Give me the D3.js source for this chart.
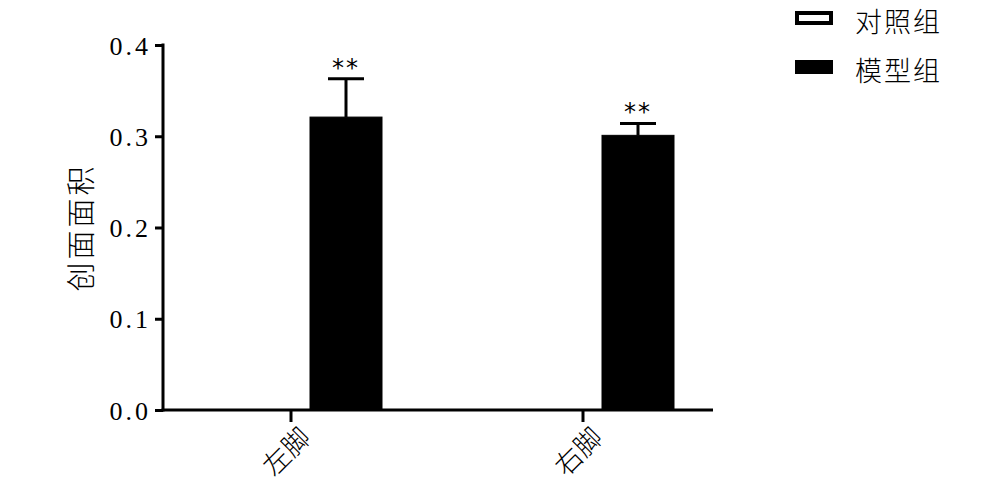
<!DOCTYPE html>
<html><head><meta charset="utf-8">
<script src="https://cdn.jsdelivr.net/npm/d3@7/dist/d3.min.js"></script>
<style>body{margin:0;background:#fff;}svg{display:block;}</style>
</head><body>
<svg id="chart" width="999" height="487"></svg>
<script>
const categories = ["左脚", "右脚"];
const groups = ["对照组", "模型组"];
const controlValues = [0, 0];
const controlErrors = [0, 0];
const modelValues = [0.321, 0.301];
const modelErrors = [0.042, 0.013];
const significance = ["**", "**"];
const yTicks = [0.0, 0.1, 0.2, 0.3, 0.4];
const yLabel = "创面面积";

const svg = d3.select("#chart");
const axisLeft = 163, axisRight = 713, y0 = 410, yTop = 45;

const y = d3.scaleLinear().domain([0, 0.4]).range([y0, yTop]);
const x = d3.scaleBand().domain(categories).range([145, 729]).paddingInner(0).paddingOuter(0);
const xs = d3.scaleBand().domain(groups).range([55, 237]).paddingInner(0.3455).paddingOuter(0);

const series = [
  {name: groups[0], values: controlValues, errors: controlErrors, fill: "#fff"},
  {name: groups[1], values: modelValues, errors: modelErrors, fill: "#000"}
];

// bars
series.forEach(s => {
  const g = svg.append("g");
  categories.forEach((c, i) => {
    const bx = x(c) + xs(s.name);
    const bw = xs.bandwidth();
    const v = s.values[i];
    g.append("rect")
      .attr("x", bx).attr("y", y(v))
      .attr("width", bw).attr("height", y(0) - y(v))
      .attr("fill", s.fill).attr("stroke", "#000").attr("stroke-width", 1);
    if (s.errors[i] > 0) {
      const cx = bx + bw / 2;
      const top = y(v + s.errors[i]);
      g.append("line").attr("x1", cx).attr("x2", cx).attr("y1", y(v)).attr("y2", top)
        .attr("stroke", "#000").attr("stroke-width", 3);
      g.append("line").attr("x1", cx - 18).attr("x2", cx + 18).attr("y1", top).attr("y2", top)
        .attr("stroke", "#000").attr("stroke-width", 3);
      if (s.name === groups[1]) {
        g.append("text").attr("x", cx).attr("y", top - 3)
          .attr("text-anchor", "middle")
          .attr("font-family", "DejaVu Sans, sans-serif").attr("font-size", 24)
          .attr("letter-spacing", 2)
          .text(significance[i]);
      }
    }
  });
});

// y axis
const yAxis = d3.axisLeft(y).tickValues(yTicks).tickFormat(d3.format(".1f")).tickSize(8).tickSizeOuter(0);
const gy = svg.append("g").attr("transform", `translate(${axisLeft},0)`).call(yAxis);
gy.select(".domain").attr("stroke-width", 3).attr("d", `M0,${yTop - 1.5}V${y0 + 1.5}`);
gy.selectAll(".tick line").attr("stroke-width", 3);
gy.selectAll(".tick text")
  .attr("font-family", "Liberation Serif, serif").attr("font-size", 26)
  .attr("fill", "#000").attr("letter-spacing", 3).attr("x", -12).attr("dy", "0.35em");

// x axis
const xAxis = d3.axisBottom(x).tickSize(12).tickSizeOuter(0).tickFormat("");
const gx = svg.append("g").attr("transform", `translate(0,${y0})`).call(xAxis);
gx.select(".domain").attr("stroke-width", 3).attr("d", `M${axisLeft - 1.5},0H${axisRight}`);
gx.selectAll(".tick line").attr("stroke-width", 3);
gx.selectAll(".tick").append("text")
  .attr("transform", "translate(6,14) rotate(-45)")
  .attr("text-anchor", "end")
  .attr("dy", "0.8em")
  .attr("font-family", "Noto Sans CJK SC, sans-serif").attr("font-size", 27)
  .attr("font-weight", 300)
  .attr("fill", "#000")
  .text(d => d);

// y label
svg.append("text")
  .attr("transform", `translate(92,${(y0 + yTop) / 2}) rotate(-90)`)
  .attr("text-anchor", "middle")
  .attr("font-family", "Noto Sans CJK SC, sans-serif").attr("font-size", 29).attr("font-weight", 300)
  .attr("letter-spacing", 3)
  .text(yLabel);

// legend
const legend = svg.append("g");
const legendY = [18, 67];
series.forEach((s, i) => {
  legend.append("rect")
    .attr("x", 797).attr("y", legendY[i] - 5)
    .attr("width", 34).attr("height", 10)
    .attr("fill", s.fill).attr("stroke", "#000").attr("stroke-width", 4);
  legend.append("text")
    .attr("x", 855).attr("y", legendY[i] + 4).attr("dy", "0.36em")
    .attr("font-family", "Noto Sans CJK SC, sans-serif").attr("font-size", 27).attr("font-weight", 300)
    .attr("letter-spacing", 2)
    .text(s.name);
});
</script>
</body></html>
